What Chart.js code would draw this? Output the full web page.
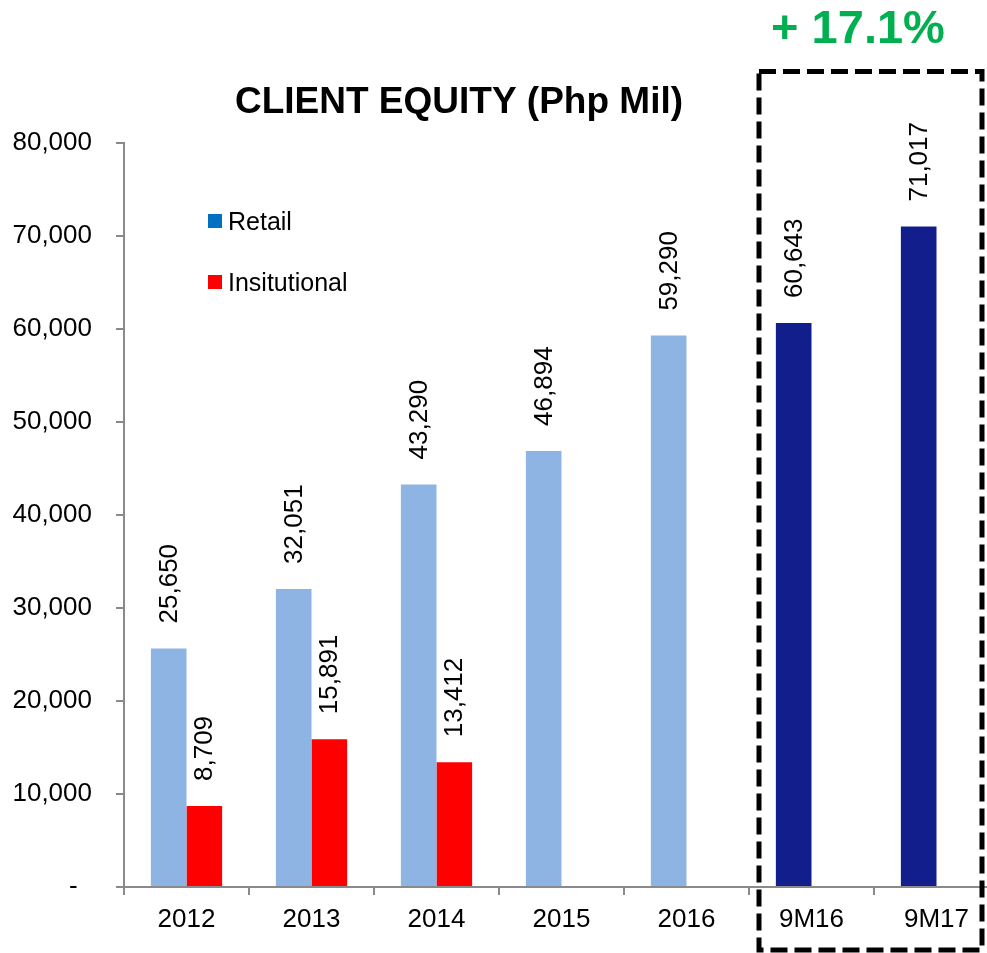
<!DOCTYPE html>
<html>
<head>
<meta charset="utf-8">
<title>Client Equity</title>
<script src="https://cdn.jsdelivr.net/npm/chart.js@4"></script>
<style>
  html, body { margin: 0; padding: 0; background: #fff; overflow: hidden; }
  #wrap { width: 1012px; height: 953px; }
</style>
</head>
<body>
<div id="wrap"><canvas id="equityChart" width="1012" height="953"></canvas></div>
<script>
// Chart data
const categories = ['2012', '2013', '2014', '2015', '2016', '9M16', '9M17'];
const retailValues = [25650, 32051, 43290, 46894, 59290, 60643, 71017];
const institutionalValues = [8709, 15891, 13412, null, null, null, null];
const yTickValues = [0, 10000, 20000, 30000, 40000, 50000, 60000, 70000, 80000];

const FONT = '"Liberation Sans", Arial, sans-serif';
const LIGHT_BLUE = '#8EB4E3';
const DARK_BLUE = '#131E8D';
const RED = '#FF0000';
const AXIS_GREY = '#8A8A8A';

const fmt = v => v.toLocaleString('en-US');

// rotated value labels, legend, titles and dashed box
const decorPlugin = {
  id: 'decor',
  afterDatasetsDraw(chart) {
    const ctx = chart.ctx;
    chart.data.datasets.forEach((ds, i) => {
      const meta = chart.getDatasetMeta(i);
      meta.data.forEach((bar, j) => {
        const v = ds.data[j];
        if (v === null || v === undefined) return;
        ctx.save();
        ctx.translate(bar.x + 1, bar.y - 25);
        ctx.rotate(-Math.PI / 2);
        ctx.font = '26px ' + FONT;
        ctx.fillStyle = '#000';
        ctx.textAlign = 'left';
        ctx.textBaseline = 'middle';
        ctx.fillText(fmt(v), 0, 0);
        ctx.restore();
      });
    });
  },
  afterDraw(chart) {
    const ctx = chart.ctx;
    const x = chart.scales.x;

    // legend
    ctx.save();
    ctx.font = '25px ' + FONT;
    ctx.textBaseline = 'alphabetic';
    chart.data.datasets.forEach((ds, i) => {
      const top = 214 + i * 61;
      ctx.fillStyle = ds.legendColor;
      ctx.fillRect(208, top, 14, 14);
      ctx.fillStyle = '#000';
      ctx.fillText(ds.label, 228, top + 16);
    });
    ctx.restore();

    // title
    ctx.save();
    ctx.fillStyle = '#000';
    ctx.font = 'bold 37px ' + FONT;
    ctx.textAlign = 'center';
    ctx.fillText('CLIENT EQUITY (Php Mil)', 459, 113);

    // growth callout
    ctx.fillStyle = '#00B050';
    ctx.font = 'bold 47px ' + FONT;
    ctx.fillText('+ 17.1%', 858, 43);
    ctx.restore();

    // dashed box round the last two categories
    const half = (x.getPixelForValue(1) - x.getPixelForValue(0)) / 2;
    const left = x.getPixelForValue(5) - half + 10;
    ctx.save();
    ctx.strokeStyle = '#000';
    ctx.lineWidth = 5;
    ctx.setLineDash([17, 7]);
    ctx.strokeRect(left, 71.5, 982 - left, 950 - 71.5);
    ctx.restore();
  }
};

const ctx = document.getElementById('equityChart');
new Chart(ctx, {
  type: 'bar',
  data: {
    labels: categories,
    datasets: [
      {
        label: 'Retail',
        data: retailValues,
        backgroundColor: retailValues.map((v, i) => i < 5 ? LIGHT_BLUE : DARK_BLUE),
        legendColor: '#0070C0',
        categoryPercentage: 0.57,
        barPercentage: 1.0
      },
      {
        label: 'Insitutional',
        data: institutionalValues,
        backgroundColor: RED,
        legendColor: RED,
        categoryPercentage: 0.57,
        barPercentage: 1.0
      }
    ]
  },
  options: {
    responsive: false,
    animation: false,
    devicePixelRatio: 1,
    layout: { padding: { top: 143, right: 13, left: 0, bottom: 0 } },
    plugins: {
      legend: { display: false },
      title: { display: false },
      tooltip: { enabled: false }
    },
    scales: {
      x: {
        afterFit(scale) { scale.height = 66; },
        grid: {
          display: true,
          offset: true,
          drawOnChartArea: false,
          drawTicks: true,
          tickLength: 8,
          color: AXIS_GREY,
          lineWidth: 2
        },
        border: { display: true, color: AXIS_GREY, width: 2 },
        ticks: {
          color: '#000',
          font: { family: FONT, size: 26 },
          padding: 9,
          maxRotation: 0
        }
      },
      y: {
        min: 0,
        max: 80000,
        afterFit(scale) { scale.width = 124; },
        afterBuildTicks(scale) {
          scale.ticks = yTickValues.map(v => ({ value: v }));
        },
        grid: {
          display: true,
          drawOnChartArea: false,
          drawTicks: true,
          tickLength: 8,
          color: AXIS_GREY,
          lineWidth: 2
        },
        border: { display: true, color: AXIS_GREY, width: 2 },
        ticks: {
          color: '#000',
          font: { family: FONT, size: 26 },
          padding: 24,
          callback: v => v === 0 ? '-  ' : fmt(v)
        }
      }
    }
  },
  plugins: [decorPlugin]
});
</script>
</body>
</html>
